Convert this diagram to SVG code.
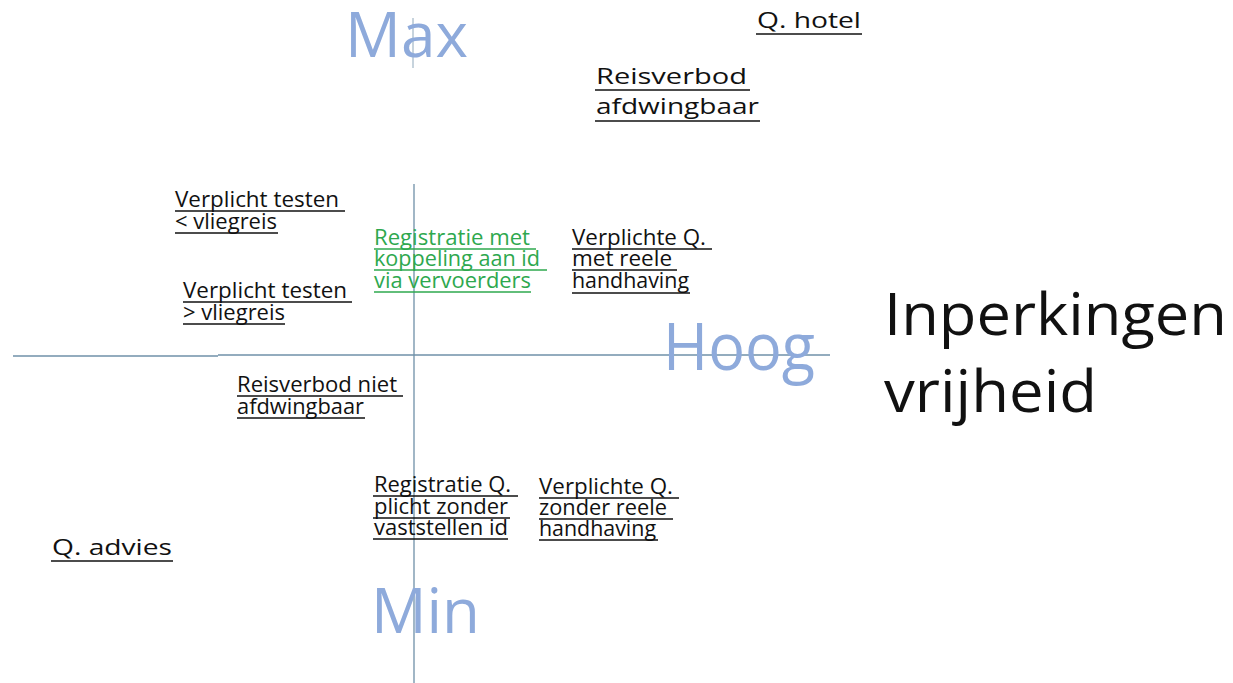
<svg xmlns="http://www.w3.org/2000/svg" width="1233" height="683" viewBox="0 0 1233 683">
<style>
.t{font-family:"Open Sans","Liberation Sans",sans-serif;font-size:21px;fill:#111}
.g{fill:#2ea84e}
.u{stroke:#111;stroke-width:1.6}
.ug{stroke:#2ea84e;stroke-width:1.6}
.ax{font-family:"Open Sans","Liberation Sans",sans-serif;fill:#8eaadb}
.big{font-family:"Open Sans","Liberation Sans",sans-serif;font-size:58px;fill:#111}
.axis{stroke:#6f90a8;stroke-width:1.3}
</style>
<rect width="1233" height="683" fill="#fff"/>
<g id="axes">
<line class="axis" x1="413" y1="18" x2="413" y2="68" stroke-opacity="0.6"/>
<line class="axis" x1="414" y1="184" x2="414" y2="683"/>
<line class="axis" x1="13" y1="356" x2="218" y2="356"/>
<line class="axis" x1="218" y1="355" x2="830" y2="355"/>
</g>
<g id="label-max"><text class="ax" x="345" y="57" font-size="63" textLength="123" lengthAdjust="spacingAndGlyphs">Max</text></g>
<g id="label-hoog"><text class="ax" x="663" y="370" font-size="65" textLength="152" lengthAdjust="spacingAndGlyphs">Hoog</text></g>
<g id="label-min"><text class="ax" x="371" y="633" font-size="63" textLength="109" lengthAdjust="spacingAndGlyphs">Min</text></g>
<g id="label-inperkingen">
<text class="big" x="884" y="335" textLength="343" lengthAdjust="spacingAndGlyphs">Inperkingen</text>
<text class="big" x="884" y="412" textLength="213" lengthAdjust="spacingAndGlyphs">vrijheid</text>
</g>
<g id="q-hotel">
<text class="t" x="757" y="28" font-size="24" textLength="104" lengthAdjust="spacingAndGlyphs">Q. hotel</text>
<line class="u" x1="756" y1="34" x2="862" y2="34"/>
</g>
<g id="reisverbod-afdwingbaar">
<text class="t" x="596" y="84" font-size="25" textLength="151" lengthAdjust="spacingAndGlyphs">Reisverbod</text>
<line class="u" x1="595" y1="90" x2="750" y2="90"/>
<text class="t" x="596" y="114" font-size="25" textLength="163" lengthAdjust="spacingAndGlyphs">afdwingbaar</text>
<line class="u" x1="595" y1="121" x2="760" y2="121"/>
</g>
<g id="testen-kleiner">
<text class="t" x="175" y="207" textLength="164" lengthAdjust="spacingAndGlyphs">Verplicht testen</text>
<line class="u" x1="175" y1="211" x2="345" y2="211"/>
<text class="t" x="175" y="229" textLength="102" lengthAdjust="spacingAndGlyphs">&lt; vliegreis</text>
<line class="u" x1="175" y1="233" x2="278" y2="233"/>
</g>
<g id="testen-groter">
<text class="t" x="183" y="298" textLength="164" lengthAdjust="spacingAndGlyphs">Verplicht testen</text>
<line class="u" x1="183" y1="302" x2="352" y2="302"/>
<text class="t" x="183" y="320" textLength="102" lengthAdjust="spacingAndGlyphs">&gt; vliegreis</text>
<line class="u" x1="183" y1="324" x2="285" y2="324"/>
</g>
<g id="registratie-koppeling">
<text class="t g" x="374" y="245" textLength="156" lengthAdjust="spacingAndGlyphs">Registratie met</text>
<line class="ug" x1="374" y1="249" x2="536" y2="249"/>
<text class="t g" x="374" y="266" textLength="166" lengthAdjust="spacingAndGlyphs">koppeling aan id</text>
<line class="ug" x1="374" y1="270" x2="547" y2="270"/>
<text class="t g" x="374" y="288" textLength="157" lengthAdjust="spacingAndGlyphs">via vervoerders</text>
<line class="ug" x1="374" y1="292" x2="531" y2="292"/>
</g>
<g id="q-met-handhaving">
<text class="t" x="572" y="245" textLength="134" lengthAdjust="spacingAndGlyphs">Verplichte Q.</text>
<line class="u" x1="572" y1="249" x2="712" y2="249"/>
<text class="t" x="572" y="266" textLength="100" lengthAdjust="spacingAndGlyphs">met reele</text>
<line class="u" x1="572" y1="270" x2="677" y2="270"/>
<text class="t" x="572" y="288" textLength="117" lengthAdjust="spacingAndGlyphs">handhaving</text>
<line class="u" x1="572" y1="293" x2="690" y2="293"/>
</g>
<g id="reisverbod-niet">
<text class="t" x="237" y="392" textLength="160" lengthAdjust="spacingAndGlyphs">Reisverbod niet</text>
<line class="u" x1="237" y1="396" x2="403" y2="396"/>
<text class="t" x="237" y="414" textLength="127" lengthAdjust="spacingAndGlyphs">afdwingbaar</text>
<line class="u" x1="237" y1="418" x2="365" y2="418"/>
</g>
<g id="registratie-zonder-id">
<text class="t" x="374" y="492" textLength="137" lengthAdjust="spacingAndGlyphs">Registratie Q.</text>
<line class="u" x1="373" y1="496" x2="518" y2="496"/>
<text class="t" x="374" y="514" textLength="134" lengthAdjust="spacingAndGlyphs">plicht zonder</text>
<line class="u" x1="373" y1="518" x2="510" y2="518"/>
<text class="t" x="374" y="535" textLength="134" lengthAdjust="spacingAndGlyphs">vaststellen id</text>
<line class="u" x1="373" y1="539" x2="508" y2="539"/>
</g>
<g id="q-zonder-handhaving">
<text class="t" x="539" y="494" textLength="134" lengthAdjust="spacingAndGlyphs">Verplichte Q.</text>
<line class="u" x1="539" y1="498" x2="679" y2="498"/>
<text class="t" x="539" y="515" textLength="128" lengthAdjust="spacingAndGlyphs">zonder reele</text>
<line class="u" x1="539" y1="519" x2="673" y2="519"/>
<text class="t" x="539" y="536" textLength="117" lengthAdjust="spacingAndGlyphs">handhaving</text>
<line class="u" x1="539" y1="540" x2="658" y2="540"/>
</g>
<g id="q-advies">
<text class="t" x="52" y="555" font-size="25" textLength="120" lengthAdjust="spacingAndGlyphs">Q. advies</text>
<line class="u" x1="51" y1="561" x2="173" y2="561"/>
</g>
</svg>
